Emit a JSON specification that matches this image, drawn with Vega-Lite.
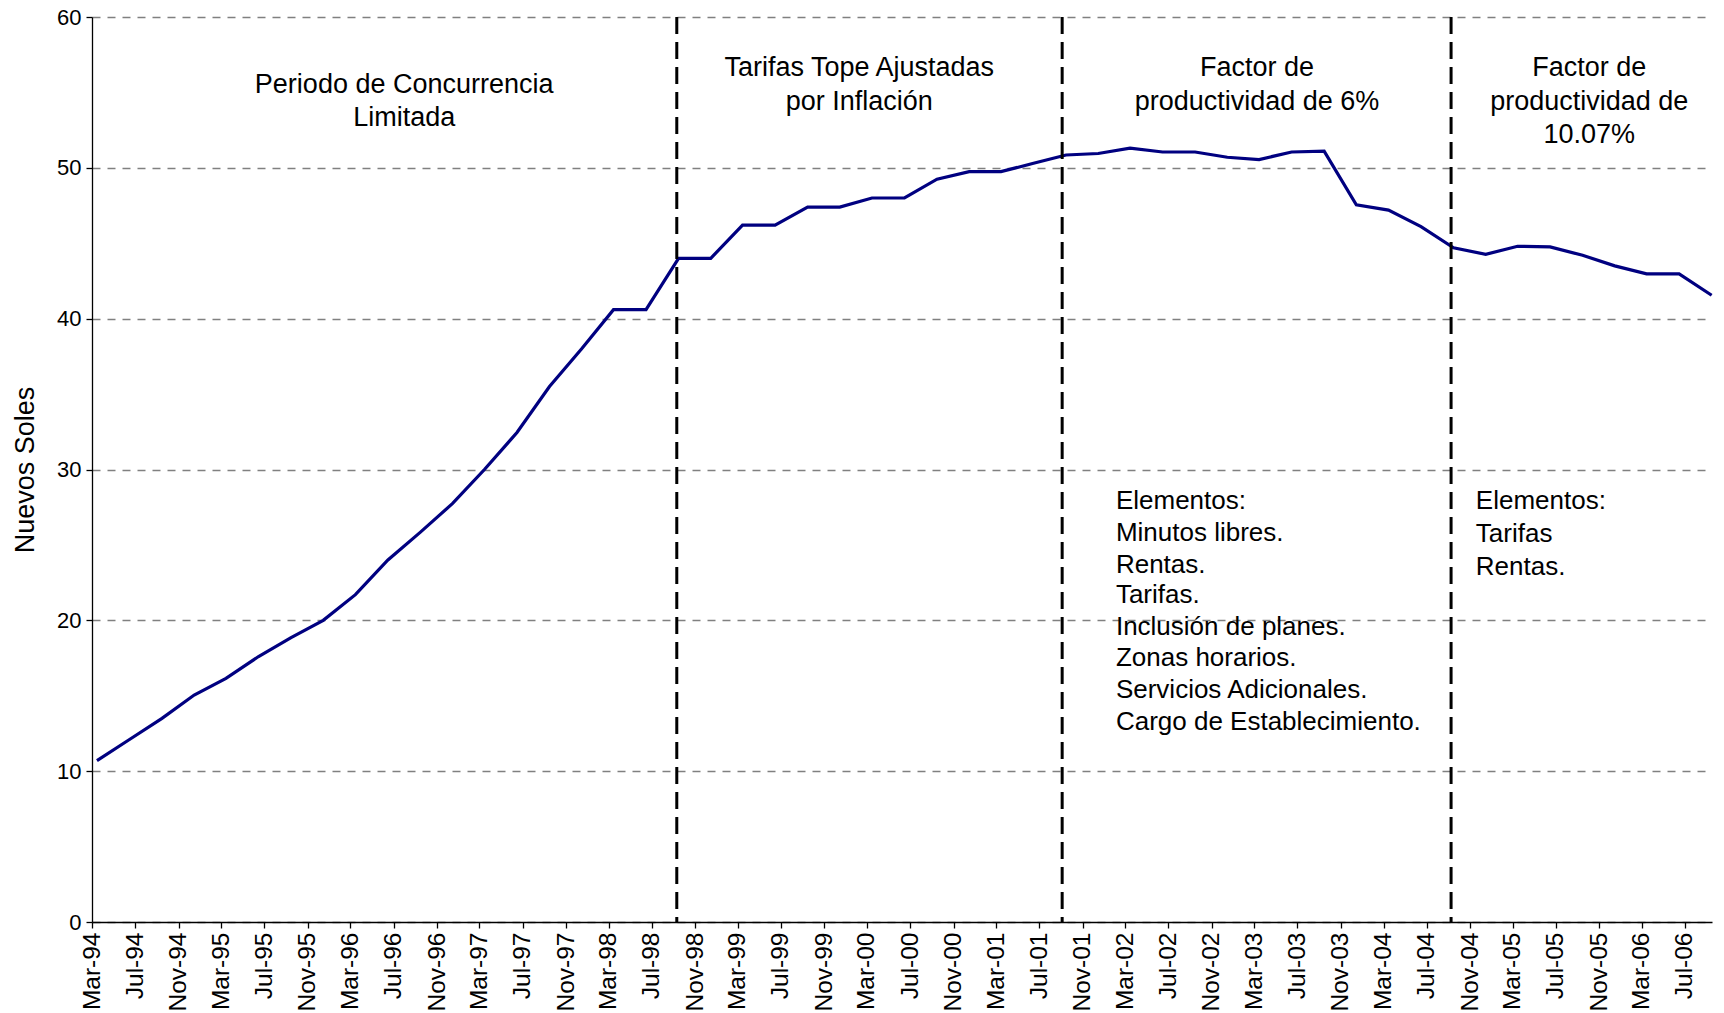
{
  "$schema": "https://vega.github.io/schema/vega-lite/v6.json",
  "autosize": {"type": "none"},
  "width": 1620,
  "height": 905,
  "padding": {"left": 92, "top": 17, "right": 12, "bottom": 91},
  "background": "white",
  "config": {
    "view": {"stroke": null},
    "font": "Liberation Sans",
    "axis": {"labelFont": "Liberation Sans", "titleFont": "Liberation Sans", "labelColor": "black", "titleColor": "black"}
  },
  "datasets": {
    "serie": [
      {"fecha": "1994-03-15", "valor": 10.7},
      {"fecha": "1994-06-15", "valor": 12.1},
      {"fecha": "1994-09-15", "valor": 13.5},
      {"fecha": "1994-12-15", "valor": 15.05},
      {"fecha": "1995-03-15", "valor": 16.15},
      {"fecha": "1995-06-15", "valor": 17.6},
      {"fecha": "1995-09-15", "valor": 18.85},
      {"fecha": "1995-12-15", "valor": 20.0},
      {"fecha": "1996-03-15", "valor": 21.7},
      {"fecha": "1996-06-15", "valor": 24.0},
      {"fecha": "1996-09-15", "valor": 25.85},
      {"fecha": "1996-12-15", "valor": 27.75},
      {"fecha": "1997-03-15", "valor": 30.0},
      {"fecha": "1997-06-15", "valor": 32.45},
      {"fecha": "1997-09-15", "valor": 35.5},
      {"fecha": "1997-12-15", "valor": 38.0},
      {"fecha": "1998-03-15", "valor": 40.6},
      {"fecha": "1998-06-15", "valor": 40.6},
      {"fecha": "1998-09-15", "valor": 44.0},
      {"fecha": "1998-12-15", "valor": 44.0},
      {"fecha": "1999-03-15", "valor": 46.2},
      {"fecha": "1999-06-15", "valor": 46.2},
      {"fecha": "1999-09-15", "valor": 47.4},
      {"fecha": "1999-12-15", "valor": 47.4},
      {"fecha": "2000-03-15", "valor": 48.0},
      {"fecha": "2000-06-15", "valor": 48.0},
      {"fecha": "2000-09-15", "valor": 49.25},
      {"fecha": "2000-12-15", "valor": 49.75},
      {"fecha": "2001-03-15", "valor": 49.75},
      {"fecha": "2001-06-15", "valor": 50.3},
      {"fecha": "2001-09-15", "valor": 50.85},
      {"fecha": "2001-12-15", "valor": 50.95},
      {"fecha": "2002-03-15", "valor": 51.3},
      {"fecha": "2002-06-15", "valor": 51.05},
      {"fecha": "2002-09-15", "valor": 51.05},
      {"fecha": "2002-12-15", "valor": 50.7},
      {"fecha": "2003-03-15", "valor": 50.55},
      {"fecha": "2003-06-15", "valor": 51.05},
      {"fecha": "2003-09-15", "valor": 51.1},
      {"fecha": "2003-12-15", "valor": 47.55},
      {"fecha": "2004-03-15", "valor": 47.2},
      {"fecha": "2004-06-15", "valor": 46.1},
      {"fecha": "2004-09-15", "valor": 44.7},
      {"fecha": "2004-12-15", "valor": 44.27},
      {"fecha": "2005-03-15", "valor": 44.8},
      {"fecha": "2005-06-15", "valor": 44.76},
      {"fecha": "2005-09-15", "valor": 44.2},
      {"fecha": "2005-12-15", "valor": 43.5},
      {"fecha": "2006-03-15", "valor": 42.97},
      {"fecha": "2006-06-15", "valor": 42.97},
      {"fecha": "2006-09-15", "valor": 41.55}
    ],
    "cortes": [
      {"fecha": "1998-09-10"},
      {"fecha": "2001-09-04"},
      {"fecha": "2004-09-08"}
    ],
    "titulos": [
      {"fecha": "1996-07-31", "valor": 55.48, "texto": "Periodo de Concurrencia"},
      {"fecha": "1996-07-31", "valor": 53.29, "texto": "Limitada"},
      {"fecha": "2000-02-08", "valor": 56.65, "texto": "Tarifas Tope Ajustadas"},
      {"fecha": "2000-02-08", "valor": 54.38, "texto": "por Inflación"},
      {"fecha": "2003-03-09", "valor": 56.65, "texto": "Factor de"},
      {"fecha": "2003-03-09", "valor": 54.38, "texto": "productividad de 6%"},
      {"fecha": "2005-10-04", "valor": 56.65, "texto": "Factor de"},
      {"fecha": "2005-10-04", "valor": 54.38, "texto": "productividad de"},
      {"fecha": "2005-10-04", "valor": 52.2, "texto": "10.07%"}
    ],
    "notas": [
      {"fecha": "2002-02-03", "valor": 27.92, "texto": "Elementos:"},
      {"fecha": "2002-02-03", "valor": 25.81, "texto": "Minutos libres."},
      {"fecha": "2002-02-03", "valor": 23.69, "texto": "Rentas."},
      {"fecha": "2002-02-03", "valor": 21.65, "texto": "Tarifas."},
      {"fecha": "2002-02-03", "valor": 19.54, "texto": "Inclusión de planes."},
      {"fecha": "2002-02-03", "valor": 17.5, "texto": "Zonas horarios."},
      {"fecha": "2002-02-03", "valor": 15.38, "texto": "Servicios Adicionales."},
      {"fecha": "2002-02-03", "valor": 13.27, "texto": "Cargo de Establecimiento."},
      {"fecha": "2004-11-17", "valor": 27.92, "texto": "Elementos:"},
      {"fecha": "2004-11-17", "valor": 25.73, "texto": "Tarifas"},
      {"fecha": "2004-11-17", "valor": 23.55, "texto": "Rentas."}
    ]
  },
  "layer": [
    {
      "data": {"name": "serie"},
      "mark": {"type": "line", "color": "#000080", "strokeWidth": 3.2, "strokeJoin": "miter", "clip": false},
      "encoding": {
        "x": {
          "field": "fecha", "type": "temporal",
          "scale": {"type": "utc", "domain": [{"year": 1994, "month": 3, "date": 1, "utc": true}, {"year": 2006, "month": 9, "date": 16, "utc": true}], "nice": false},
          "axis": {
            "title": null,
            "values": [
              {"year": 1994, "month": 3, "date": 1, "utc": true}, {"year": 1994, "month": 7, "date": 1, "utc": true}, {"year": 1994, "month": 11, "date": 1, "utc": true},
              {"year": 1995, "month": 3, "date": 1, "utc": true}, {"year": 1995, "month": 7, "date": 1, "utc": true}, {"year": 1995, "month": 11, "date": 1, "utc": true},
              {"year": 1996, "month": 3, "date": 1, "utc": true}, {"year": 1996, "month": 7, "date": 1, "utc": true}, {"year": 1996, "month": 11, "date": 1, "utc": true},
              {"year": 1997, "month": 3, "date": 1, "utc": true}, {"year": 1997, "month": 7, "date": 1, "utc": true}, {"year": 1997, "month": 11, "date": 1, "utc": true},
              {"year": 1998, "month": 3, "date": 1, "utc": true}, {"year": 1998, "month": 7, "date": 1, "utc": true}, {"year": 1998, "month": 11, "date": 1, "utc": true},
              {"year": 1999, "month": 3, "date": 1, "utc": true}, {"year": 1999, "month": 7, "date": 1, "utc": true}, {"year": 1999, "month": 11, "date": 1, "utc": true},
              {"year": 2000, "month": 3, "date": 1, "utc": true}, {"year": 2000, "month": 7, "date": 1, "utc": true}, {"year": 2000, "month": 11, "date": 1, "utc": true},
              {"year": 2001, "month": 3, "date": 1, "utc": true}, {"year": 2001, "month": 7, "date": 1, "utc": true}, {"year": 2001, "month": 11, "date": 1, "utc": true},
              {"year": 2002, "month": 3, "date": 1, "utc": true}, {"year": 2002, "month": 7, "date": 1, "utc": true}, {"year": 2002, "month": 11, "date": 1, "utc": true},
              {"year": 2003, "month": 3, "date": 1, "utc": true}, {"year": 2003, "month": 7, "date": 1, "utc": true}, {"year": 2003, "month": 11, "date": 1, "utc": true},
              {"year": 2004, "month": 3, "date": 1, "utc": true}, {"year": 2004, "month": 7, "date": 1, "utc": true}, {"year": 2004, "month": 11, "date": 1, "utc": true},
              {"year": 2005, "month": 3, "date": 1, "utc": true}, {"year": 2005, "month": 7, "date": 1, "utc": true}, {"year": 2005, "month": 11, "date": 1, "utc": true},
              {"year": 2006, "month": 3, "date": 1, "utc": true}, {"year": 2006, "month": 7, "date": 1, "utc": true}
            ],
            "labelExpr": "utcFormat(datum.value, '%b-%y')",
            "labelAngle": -90,
            "labelFontSize": 24.5,
            "labelPadding": 4,
            "labelOverlap": false,
            "labelBound": false,
            "labelFlush": false,
            "grid": false,
            "domainColor": "black",
            "domainWidth": 1.3,
            "tickColor": "black",
            "tickWidth": 1.3,
            "tickSize": 6
          }
        },
        "y": {
          "field": "valor", "type": "quantitative",
          "scale": {"domain": [0, 60], "nice": false, "zero": true},
          "axis": {
            "title": "Nuevos Soles",
            "titleFontSize": 27,
            "titleFontWeight": "normal",
            "titlePadding": 17,
            "values": [0, 10, 20, 30, 40, 50, 60],
            "labelFontSize": 22,
            "labelPadding": 5,
            "domainColor": "black",
            "domainWidth": 1.3,
            "tickColor": "black",
            "tickWidth": 1.3,
            "tickSize": 6,
            "grid": true,
            "gridColor": "#808080",
            "gridDash": [8, 7],
            "gridWidth": 1.3
          }
        }
      }
    },
    {
      "data": {"name": "cortes"},
      "mark": {"type": "rule", "color": "black", "strokeWidth": 3, "strokeDash": [17, 8]},
      "encoding": {
        "x": {"field": "fecha", "type": "temporal"}
      }
    },
    {
      "data": {"name": "titulos"},
      "mark": {"type": "text", "align": "center", "baseline": "middle", "fontSize": 27, "font": "Liberation Sans", "color": "black"},
      "encoding": {
        "x": {"field": "fecha", "type": "temporal"},
        "y": {"field": "valor", "type": "quantitative"},
        "text": {"field": "texto", "type": "nominal"}
      }
    },
    {
      "data": {"name": "notas"},
      "mark": {"type": "text", "align": "left", "baseline": "middle", "fontSize": 26, "font": "Liberation Sans", "color": "black"},
      "encoding": {
        "x": {"field": "fecha", "type": "temporal"},
        "y": {"field": "valor", "type": "quantitative"},
        "text": {"field": "texto", "type": "nominal"}
      }
    }
  ]
}
